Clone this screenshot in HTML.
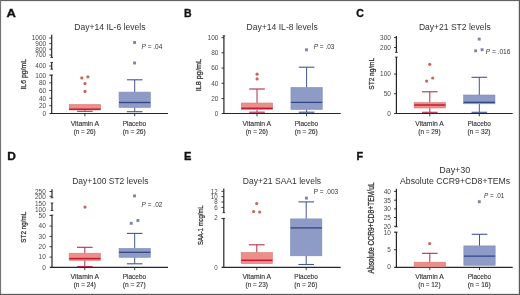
<!DOCTYPE html><html><head><meta charset="utf-8"><style>html,body{margin:0;padding:0;background:#fff;width:520px;height:295px;overflow:hidden}svg{display:block;will-change:transform;font-family:"Liberation Sans", sans-serif}</style></head><body>
<svg width="520" height="295" viewBox="0 0 520 295">
<rect x="0" y="0" width="520" height="295" fill="#fff"/>
<text x="6.5" y="16.7" font-size="11.6" text-anchor="start" font-weight="bold" fill="#111" textLength="9.4" lengthAdjust="spacingAndGlyphs" stroke="#111" stroke-width="0.35">A</text>
<text x="109.9" y="29.8" font-size="9.7" text-anchor="middle" font-weight="normal" fill="#333333" textLength="71.2" lengthAdjust="spacingAndGlyphs" >Day+14 IL-6 levels</text>
<line x1="51.7" y1="34.8" x2="51.7" y2="57.4" stroke="#262626" stroke-width="1.2"/>
<line x1="50.4" y1="57.4" x2="53.0" y2="57.4" stroke="#262626" stroke-width="0.9"/>
<line x1="51.7" y1="62.5" x2="51.7" y2="69.2" stroke="#262626" stroke-width="1.2"/>
<line x1="50.4" y1="62.5" x2="53.0" y2="62.5" stroke="#262626" stroke-width="0.9"/>
<line x1="50.4" y1="69.2" x2="53.0" y2="69.2" stroke="#262626" stroke-width="0.9"/>
<line x1="51.7" y1="75.1" x2="51.7" y2="114.0" stroke="#262626" stroke-width="1.2"/>
<line x1="50.4" y1="75.1" x2="53.0" y2="75.1" stroke="#262626" stroke-width="0.9"/>
<line x1="49.3" y1="38" x2="51.7" y2="38" stroke="#262626" stroke-width="0.9"/>
<line x1="49.3" y1="43.6" x2="51.7" y2="43.6" stroke="#262626" stroke-width="0.9"/>
<line x1="49.3" y1="49.2" x2="51.7" y2="49.2" stroke="#262626" stroke-width="0.9"/>
<line x1="49.3" y1="55" x2="51.7" y2="55" stroke="#262626" stroke-width="0.9"/>
<line x1="49.3" y1="66" x2="51.7" y2="66" stroke="#262626" stroke-width="0.9"/>
<line x1="49.3" y1="75.2" x2="51.7" y2="75.2" stroke="#262626" stroke-width="0.9"/>
<line x1="49.3" y1="82.8" x2="51.7" y2="82.8" stroke="#262626" stroke-width="0.9"/>
<line x1="49.3" y1="90.5" x2="51.7" y2="90.5" stroke="#262626" stroke-width="0.9"/>
<line x1="49.3" y1="98.2" x2="51.7" y2="98.2" stroke="#262626" stroke-width="0.9"/>
<line x1="49.3" y1="105.7" x2="51.7" y2="105.7" stroke="#262626" stroke-width="0.9"/>
<text x="46.2" y="40.34" font-size="6.96" text-anchor="end" font-weight="normal" fill="#4a4a4a" textLength="14.46" lengthAdjust="spacingAndGlyphs" >1000</text>
<text x="46.2" y="45.94" font-size="6.96" text-anchor="end" font-weight="normal" fill="#4a4a4a" textLength="10.84" lengthAdjust="spacingAndGlyphs" >900</text>
<text x="46.2" y="51.54" font-size="6.96" text-anchor="end" font-weight="normal" fill="#4a4a4a" textLength="10.84" lengthAdjust="spacingAndGlyphs" >800</text>
<text x="46.2" y="57.34" font-size="6.96" text-anchor="end" font-weight="normal" fill="#4a4a4a" textLength="10.84" lengthAdjust="spacingAndGlyphs" >700</text>
<text x="46.2" y="68.34" font-size="6.96" text-anchor="end" font-weight="normal" fill="#4a4a4a" textLength="10.84" lengthAdjust="spacingAndGlyphs" >400</text>
<text x="46.2" y="77.54" font-size="6.96" text-anchor="end" font-weight="normal" fill="#4a4a4a" textLength="10.84" lengthAdjust="spacingAndGlyphs" >100</text>
<text x="46.2" y="85.14" font-size="6.96" text-anchor="end" font-weight="normal" fill="#4a4a4a" textLength="7.23" lengthAdjust="spacingAndGlyphs" >80</text>
<text x="46.2" y="92.84" font-size="6.96" text-anchor="end" font-weight="normal" fill="#4a4a4a" textLength="7.23" lengthAdjust="spacingAndGlyphs" >60</text>
<text x="46.2" y="100.54" font-size="6.96" text-anchor="end" font-weight="normal" fill="#4a4a4a" textLength="7.23" lengthAdjust="spacingAndGlyphs" >40</text>
<text x="46.2" y="108.04" font-size="6.96" text-anchor="end" font-weight="normal" fill="#4a4a4a" textLength="7.23" lengthAdjust="spacingAndGlyphs" >20</text>
<text x="46.2" y="115.64" font-size="6.96" text-anchor="end" font-weight="normal" fill="#4a4a4a" textLength="3.61" lengthAdjust="spacingAndGlyphs" >0</text>
<line x1="49.5" y1="113.5" x2="168" y2="113.5" stroke="#262626" stroke-width="1.2"/>
<text x="0" y="0" font-size="8.0" text-anchor="middle" font-weight="normal" fill="#333333" textLength="30.5" lengthAdjust="spacingAndGlyphs" transform="translate(25.9,74.3) rotate(-90)" stroke="#333" stroke-width="0.28">IL6 pg/mL</text>
<line x1="84.9" y1="113.5" x2="84.9" y2="116.3" stroke="#262626" stroke-width="0.9"/>
<line x1="84.9" y1="110" x2="84.9" y2="111.3" stroke="#b42c4a" stroke-width="1"/>
<line x1="77.1" y1="111.3" x2="92.7" y2="111.3" stroke="#b42c4a" stroke-width="1.1"/>
<rect x="69.25" y="104.5" width="31.3" height="5.5" fill="#ec8f88" stroke="#d97a78" stroke-width="0.6"/>
<line x1="69.25" y1="109.2" x2="100.55" y2="109.2" stroke="#c41a36" stroke-width="1.5"/>
<circle cx="81.8" cy="77.9" r="1.6" fill="#c8665e"/>
<circle cx="87.9" cy="76.8" r="1.6" fill="#c8665e"/>
<circle cx="85" cy="83.6" r="1.6" fill="#c8665e"/>
<circle cx="85" cy="91.4" r="1.6" fill="#c8665e"/>
<text x="84.9" y="125.5" font-size="6.3" text-anchor="middle" font-weight="normal" fill="#333333" textLength="28.5" lengthAdjust="spacingAndGlyphs" stroke="#333" stroke-width="0.12">Vitamin A</text>
<text x="84.7" y="133.5" font-size="6.3" text-anchor="middle" font-weight="normal" fill="#333333" textLength="22.1" lengthAdjust="spacingAndGlyphs" stroke="#333" stroke-width="0.12">(n = 26)</text>
<line x1="134.7" y1="113.5" x2="134.7" y2="116.3" stroke="#262626" stroke-width="0.9"/>
<line x1="134.7" y1="79.8" x2="134.7" y2="92.1" stroke="#44558f" stroke-width="1"/>
<line x1="126.9" y1="79.8" x2="142.5" y2="79.8" stroke="#44558f" stroke-width="1.1"/>
<line x1="134.7" y1="107.4" x2="134.7" y2="111.7" stroke="#44558f" stroke-width="1"/>
<line x1="126.9" y1="111.7" x2="142.5" y2="111.7" stroke="#44558f" stroke-width="1.1"/>
<rect x="119.05" y="92.1" width="31.3" height="15.3" fill="#8e9bc6" stroke="#7f8bbf" stroke-width="0.6"/>
<line x1="119.05" y1="102.5" x2="150.35" y2="102.5" stroke="#304680" stroke-width="1.3"/>
<rect x="133.15" y="41.05" width="2.9" height="2.9" fill="#7c82b0"/>
<rect x="133.15" y="61.55" width="2.9" height="2.9" fill="#7c82b0"/>
<text x="134.45" y="125.5" font-size="6.3" text-anchor="middle" font-weight="normal" fill="#333333" textLength="23.4" lengthAdjust="spacingAndGlyphs" stroke="#333" stroke-width="0.12">Placebo</text>
<text x="134.25" y="133.5" font-size="6.3" text-anchor="middle" font-weight="normal" fill="#333333" textLength="23.0" lengthAdjust="spacingAndGlyphs" stroke="#333" stroke-width="0.12">(n = 26)</text>
<text x="141.5" y="49" font-size="6.4" fill="#333333" textLength="20.9" lengthAdjust="spacingAndGlyphs"><tspan font-style="italic">P</tspan> = .04</text>
<text x="184" y="16.7" font-size="11.6" text-anchor="start" font-weight="bold" fill="#111" textLength="7.6" lengthAdjust="spacingAndGlyphs" stroke="#111" stroke-width="0.35">B</text>
<text x="282.2" y="29.9" font-size="9.7" text-anchor="middle" font-weight="normal" fill="#333333" textLength="71.2" lengthAdjust="spacingAndGlyphs" >Day+14 IL-8 levels</text>
<line x1="223.9" y1="35.8" x2="223.9" y2="114.0" stroke="#262626" stroke-width="1.2"/>
<line x1="222.6" y1="35.8" x2="225.2" y2="35.8" stroke="#262626" stroke-width="0.9"/>
<line x1="221.5" y1="37.7" x2="223.9" y2="37.7" stroke="#262626" stroke-width="0.9"/>
<line x1="221.5" y1="52.8" x2="223.9" y2="52.8" stroke="#262626" stroke-width="0.9"/>
<line x1="221.5" y1="68.1" x2="223.9" y2="68.1" stroke="#262626" stroke-width="0.9"/>
<line x1="221.5" y1="83.3" x2="223.9" y2="83.3" stroke="#262626" stroke-width="0.9"/>
<line x1="221.5" y1="98.5" x2="223.9" y2="98.5" stroke="#262626" stroke-width="0.9"/>
<text x="218.4" y="40.04" font-size="6.96" text-anchor="end" font-weight="normal" fill="#4a4a4a" textLength="10.84" lengthAdjust="spacingAndGlyphs" >100</text>
<text x="218.4" y="55.14" font-size="6.96" text-anchor="end" font-weight="normal" fill="#4a4a4a" textLength="7.23" lengthAdjust="spacingAndGlyphs" >80</text>
<text x="218.4" y="70.44" font-size="6.96" text-anchor="end" font-weight="normal" fill="#4a4a4a" textLength="7.23" lengthAdjust="spacingAndGlyphs" >60</text>
<text x="218.4" y="85.64" font-size="6.96" text-anchor="end" font-weight="normal" fill="#4a4a4a" textLength="7.23" lengthAdjust="spacingAndGlyphs" >40</text>
<text x="218.4" y="100.84" font-size="6.96" text-anchor="end" font-weight="normal" fill="#4a4a4a" textLength="7.23" lengthAdjust="spacingAndGlyphs" >20</text>
<text x="218.4" y="115.74" font-size="6.96" text-anchor="end" font-weight="normal" fill="#4a4a4a" textLength="3.61" lengthAdjust="spacingAndGlyphs" >0</text>
<line x1="221.7" y1="113.5" x2="340.7" y2="113.5" stroke="#262626" stroke-width="1.2"/>
<text x="0" y="0" font-size="8.0" text-anchor="middle" font-weight="normal" fill="#333333" textLength="32.2" lengthAdjust="spacingAndGlyphs" transform="translate(201.1,75.15) rotate(-90)" stroke="#333" stroke-width="0.28">IL8 pg/mL</text>
<line x1="257" y1="113.5" x2="257" y2="116.3" stroke="#262626" stroke-width="0.9"/>
<line x1="257" y1="89" x2="257" y2="103" stroke="#b42c4a" stroke-width="1"/>
<line x1="249.2" y1="89" x2="264.8" y2="89" stroke="#b42c4a" stroke-width="1.1"/>
<line x1="257" y1="109.7" x2="257" y2="112.2" stroke="#b42c4a" stroke-width="1"/>
<line x1="249.2" y1="112.2" x2="264.8" y2="112.2" stroke="#b42c4a" stroke-width="1.1"/>
<rect x="241.35" y="103" width="31.3" height="6.7" fill="#ec8f88" stroke="#d97a78" stroke-width="0.6"/>
<line x1="241.35" y1="108.3" x2="272.65" y2="108.3" stroke="#c41a36" stroke-width="1.5"/>
<circle cx="257.1" cy="74.2" r="1.6" fill="#c8665e"/>
<circle cx="257.1" cy="78.9" r="1.6" fill="#c8665e"/>
<text x="256.85" y="125.5" font-size="6.3" text-anchor="middle" font-weight="normal" fill="#333333" textLength="28.6" lengthAdjust="spacingAndGlyphs" stroke="#333" stroke-width="0.12">Vitamin A</text>
<text x="256.8" y="133.5" font-size="6.3" text-anchor="middle" font-weight="normal" fill="#333333" textLength="22.3" lengthAdjust="spacingAndGlyphs" stroke="#333" stroke-width="0.12">(n = 26)</text>
<line x1="306.6" y1="113.5" x2="306.6" y2="116.3" stroke="#262626" stroke-width="0.9"/>
<line x1="306.6" y1="67.2" x2="306.6" y2="87.5" stroke="#44558f" stroke-width="1"/>
<line x1="298.8" y1="67.2" x2="314.4" y2="67.2" stroke="#44558f" stroke-width="1.1"/>
<line x1="306.6" y1="109.4" x2="306.6" y2="112.2" stroke="#44558f" stroke-width="1"/>
<line x1="298.8" y1="112.2" x2="314.4" y2="112.2" stroke="#44558f" stroke-width="1.1"/>
<rect x="290.95" y="87.5" width="31.3" height="21.9" fill="#8e9bc6" stroke="#7f8bbf" stroke-width="0.6"/>
<line x1="290.95" y1="102.3" x2="322.25" y2="102.3" stroke="#304680" stroke-width="1.3"/>
<rect x="305.05" y="48.35" width="2.9" height="2.9" fill="#7c82b0"/>
<text x="306.45" y="125.5" font-size="6.3" text-anchor="middle" font-weight="normal" fill="#333333" textLength="23.4" lengthAdjust="spacingAndGlyphs" stroke="#333" stroke-width="0.12">Placebo</text>
<text x="306.25" y="133.5" font-size="6.3" text-anchor="middle" font-weight="normal" fill="#333333" textLength="23.0" lengthAdjust="spacingAndGlyphs" stroke="#333" stroke-width="0.12">(n = 26)</text>
<text x="313.7" y="49.2" font-size="6.4" fill="#333333" textLength="20.7" lengthAdjust="spacingAndGlyphs"><tspan font-style="italic">P</tspan> = .03</text>
<text x="356.3" y="16.7" font-size="11.6" text-anchor="start" font-weight="bold" fill="#111" textLength="7.6" lengthAdjust="spacingAndGlyphs" stroke="#111" stroke-width="0.35">C</text>
<text x="454.8" y="29.9" font-size="9.7" text-anchor="middle" font-weight="normal" fill="#333333" textLength="71.8" lengthAdjust="spacingAndGlyphs" >Day+21 ST2 levels</text>
<line x1="396.4" y1="35.9" x2="396.4" y2="52.4" stroke="#262626" stroke-width="1.2"/>
<line x1="395.1" y1="52.4" x2="397.7" y2="52.4" stroke="#262626" stroke-width="0.9"/>
<line x1="396.4" y1="57.1" x2="396.4" y2="114.0" stroke="#262626" stroke-width="1.2"/>
<line x1="395.1" y1="57.1" x2="397.7" y2="57.1" stroke="#262626" stroke-width="0.9"/>
<line x1="394.0" y1="37.6" x2="396.4" y2="37.6" stroke="#262626" stroke-width="0.9"/>
<line x1="394.0" y1="47.5" x2="396.4" y2="47.5" stroke="#262626" stroke-width="0.9"/>
<line x1="394.0" y1="74.1" x2="396.4" y2="74.1" stroke="#262626" stroke-width="0.9"/>
<line x1="394.0" y1="93.7" x2="396.4" y2="93.7" stroke="#262626" stroke-width="0.9"/>
<text x="390.9" y="39.94" font-size="6.96" text-anchor="end" font-weight="normal" fill="#4a4a4a" textLength="10.84" lengthAdjust="spacingAndGlyphs" >300</text>
<text x="390.9" y="49.84" font-size="6.96" text-anchor="end" font-weight="normal" fill="#4a4a4a" textLength="10.84" lengthAdjust="spacingAndGlyphs" >200</text>
<text x="390.9" y="76.44" font-size="6.96" text-anchor="end" font-weight="normal" fill="#4a4a4a" textLength="10.84" lengthAdjust="spacingAndGlyphs" >100</text>
<text x="390.9" y="96.04" font-size="6.96" text-anchor="end" font-weight="normal" fill="#4a4a4a" textLength="7.23" lengthAdjust="spacingAndGlyphs" >50</text>
<text x="390.9" y="115.64" font-size="6.96" text-anchor="end" font-weight="normal" fill="#4a4a4a" textLength="3.61" lengthAdjust="spacingAndGlyphs" >0</text>
<line x1="394.2" y1="113.5" x2="512.7" y2="113.5" stroke="#262626" stroke-width="1.2"/>
<text x="0" y="0" font-size="8.0" text-anchor="middle" font-weight="normal" fill="#333333" textLength="31.8" lengthAdjust="spacingAndGlyphs" transform="translate(373.6,73.75) rotate(-90)" stroke="#333" stroke-width="0.28">ST2 ng/mL</text>
<line x1="429.8" y1="113.5" x2="429.8" y2="116.3" stroke="#262626" stroke-width="0.9"/>
<line x1="429.8" y1="91.8" x2="429.8" y2="102.5" stroke="#b42c4a" stroke-width="1"/>
<line x1="422.0" y1="91.8" x2="437.6" y2="91.8" stroke="#b42c4a" stroke-width="1.1"/>
<line x1="429.8" y1="108" x2="429.8" y2="112.3" stroke="#b42c4a" stroke-width="1"/>
<line x1="422.0" y1="112.3" x2="437.6" y2="112.3" stroke="#b42c4a" stroke-width="1.1"/>
<rect x="414.15" y="102.5" width="31.3" height="5.5" fill="#ec8f88" stroke="#d97a78" stroke-width="0.6"/>
<line x1="414.15" y1="105" x2="445.45" y2="105" stroke="#c41a36" stroke-width="1.5"/>
<circle cx="429.7" cy="64.3" r="1.6" fill="#c8665e"/>
<circle cx="432.7" cy="78" r="1.6" fill="#c8665e"/>
<circle cx="426.6" cy="81.1" r="1.6" fill="#c8665e"/>
<text x="429.5" y="125.5" font-size="6.3" text-anchor="middle" font-weight="normal" fill="#333333" textLength="28.5" lengthAdjust="spacingAndGlyphs" stroke="#333" stroke-width="0.12">Vitamin A</text>
<text x="429.4" y="133.5" font-size="6.3" text-anchor="middle" font-weight="normal" fill="#333333" textLength="22.3" lengthAdjust="spacingAndGlyphs" stroke="#333" stroke-width="0.12">(n = 29)</text>
<line x1="479.3" y1="113.5" x2="479.3" y2="116.3" stroke="#262626" stroke-width="0.9"/>
<line x1="479.3" y1="77.3" x2="479.3" y2="95" stroke="#44558f" stroke-width="1"/>
<line x1="471.5" y1="77.3" x2="487.1" y2="77.3" stroke="#44558f" stroke-width="1.1"/>
<line x1="479.3" y1="103.8" x2="479.3" y2="112.3" stroke="#44558f" stroke-width="1"/>
<line x1="471.5" y1="112.3" x2="487.1" y2="112.3" stroke="#44558f" stroke-width="1.1"/>
<rect x="463.65" y="95" width="31.3" height="8.8" fill="#8e9bc6" stroke="#7f8bbf" stroke-width="0.6"/>
<line x1="463.65" y1="102.3" x2="494.95" y2="102.3" stroke="#304680" stroke-width="1.3"/>
<rect x="477.75" y="37.65" width="2.9" height="2.9" fill="#7c82b0"/>
<rect x="474.15" y="49.35" width="2.9" height="2.9" fill="#7c82b0"/>
<rect x="480.65" y="48.25" width="2.9" height="2.9" fill="#7c82b0"/>
<text x="479.25" y="125.5" font-size="6.3" text-anchor="middle" font-weight="normal" fill="#333333" textLength="23.4" lengthAdjust="spacingAndGlyphs" stroke="#333" stroke-width="0.12">Placebo</text>
<text x="479.05" y="133.5" font-size="6.3" text-anchor="middle" font-weight="normal" fill="#333333" textLength="23.0" lengthAdjust="spacingAndGlyphs" stroke="#333" stroke-width="0.12">(n = 32)</text>
<text x="485.7" y="53.9" font-size="6.4" fill="#333333" textLength="24.7" lengthAdjust="spacingAndGlyphs"><tspan font-style="italic">P</tspan> = .016</text>
<text x="7.2" y="160.1" font-size="11.6" text-anchor="start" font-weight="bold" fill="#111" textLength="8.6" lengthAdjust="spacingAndGlyphs" stroke="#111" stroke-width="0.35">D</text>
<text x="110.3" y="183.7" font-size="9.7" text-anchor="middle" font-weight="normal" fill="#333333" textLength="76.2" lengthAdjust="spacingAndGlyphs" >Day+100 ST2 levels</text>
<line x1="52.0" y1="189.2" x2="52.0" y2="197.8" stroke="#262626" stroke-width="1.2"/>
<line x1="50.7" y1="197.8" x2="53.3" y2="197.8" stroke="#262626" stroke-width="0.9"/>
<line x1="52.0" y1="203" x2="52.0" y2="210.5" stroke="#262626" stroke-width="1.2"/>
<line x1="50.7" y1="203" x2="53.3" y2="203" stroke="#262626" stroke-width="0.9"/>
<line x1="50.7" y1="210.5" x2="53.3" y2="210.5" stroke="#262626" stroke-width="0.9"/>
<line x1="52.0" y1="215.2" x2="52.0" y2="267.9" stroke="#262626" stroke-width="1.2"/>
<line x1="50.7" y1="215.2" x2="53.3" y2="215.2" stroke="#262626" stroke-width="0.9"/>
<line x1="49.6" y1="191.5" x2="52.0" y2="191.5" stroke="#262626" stroke-width="0.9"/>
<line x1="49.6" y1="196.3" x2="52.0" y2="196.3" stroke="#262626" stroke-width="0.9"/>
<line x1="49.6" y1="215.5" x2="52.0" y2="215.5" stroke="#262626" stroke-width="0.9"/>
<line x1="49.6" y1="226.1" x2="52.0" y2="226.1" stroke="#262626" stroke-width="0.9"/>
<line x1="49.6" y1="236.4" x2="52.0" y2="236.4" stroke="#262626" stroke-width="0.9"/>
<line x1="49.6" y1="246.7" x2="52.0" y2="246.7" stroke="#262626" stroke-width="0.9"/>
<line x1="49.6" y1="257.1" x2="52.0" y2="257.1" stroke="#262626" stroke-width="0.9"/>
<text x="45.8" y="193.84" font-size="6.96" text-anchor="end" font-weight="normal" fill="#4a4a4a" textLength="10.84" lengthAdjust="spacingAndGlyphs" >250</text>
<text x="45.8" y="198.64" font-size="6.96" text-anchor="end" font-weight="normal" fill="#4a4a4a" textLength="10.84" lengthAdjust="spacingAndGlyphs" >200</text>
<text x="45.8" y="217.84" font-size="6.96" text-anchor="end" font-weight="normal" fill="#4a4a4a" textLength="7.23" lengthAdjust="spacingAndGlyphs" >50</text>
<text x="45.8" y="228.44" font-size="6.96" text-anchor="end" font-weight="normal" fill="#4a4a4a" textLength="7.23" lengthAdjust="spacingAndGlyphs" >40</text>
<text x="45.8" y="238.74" font-size="6.96" text-anchor="end" font-weight="normal" fill="#4a4a4a" textLength="7.23" lengthAdjust="spacingAndGlyphs" >30</text>
<text x="45.8" y="249.04" font-size="6.96" text-anchor="end" font-weight="normal" fill="#4a4a4a" textLength="7.23" lengthAdjust="spacingAndGlyphs" >20</text>
<text x="45.8" y="259.44" font-size="6.96" text-anchor="end" font-weight="normal" fill="#4a4a4a" textLength="7.23" lengthAdjust="spacingAndGlyphs" >10</text>
<text x="45.8" y="269.64" font-size="6.96" text-anchor="end" font-weight="normal" fill="#4a4a4a" textLength="3.61" lengthAdjust="spacingAndGlyphs" >0</text>
<text x="45.8" y="205.74" font-size="6.96" text-anchor="end" font-weight="normal" fill="#4a4a4a" textLength="10.84" lengthAdjust="spacingAndGlyphs" >150</text>
<text x="45.8" y="211.64" font-size="6.96" text-anchor="end" font-weight="normal" fill="#4a4a4a" textLength="10.84" lengthAdjust="spacingAndGlyphs" >100</text>
<line x1="49.8" y1="267.4" x2="168" y2="267.4" stroke="#262626" stroke-width="1.2"/>
<text x="0" y="0" font-size="8.0" text-anchor="middle" font-weight="normal" fill="#333333" textLength="31.0" lengthAdjust="spacingAndGlyphs" transform="translate(26.2,227.15) rotate(-90)" stroke="#333" stroke-width="0.28">ST2 ng/mL</text>
<line x1="84.8" y1="267.4" x2="84.8" y2="270.2" stroke="#262626" stroke-width="0.9"/>
<line x1="84.8" y1="247.3" x2="84.8" y2="253.2" stroke="#b42c4a" stroke-width="1"/>
<line x1="77.0" y1="247.3" x2="92.6" y2="247.3" stroke="#b42c4a" stroke-width="1.1"/>
<line x1="84.8" y1="260.4" x2="84.8" y2="266.6" stroke="#b42c4a" stroke-width="1"/>
<line x1="77.0" y1="266.6" x2="92.6" y2="266.6" stroke="#b42c4a" stroke-width="1.1"/>
<rect x="69.15" y="253.2" width="31.3" height="7.2" fill="#ec8f88" stroke="#d97a78" stroke-width="0.6"/>
<line x1="69.15" y1="258.6" x2="100.45" y2="258.6" stroke="#c41a36" stroke-width="1.5"/>
<circle cx="85" cy="207.1" r="1.6" fill="#c8665e"/>
<text x="84.85" y="278.8" font-size="6.3" text-anchor="middle" font-weight="normal" fill="#333333" textLength="28.6" lengthAdjust="spacingAndGlyphs" stroke="#333" stroke-width="0.12">Vitamin A</text>
<text x="84.8" y="286.5" font-size="6.3" text-anchor="middle" font-weight="normal" fill="#333333" textLength="22.3" lengthAdjust="spacingAndGlyphs" stroke="#333" stroke-width="0.12">(n = 24)</text>
<line x1="134.7" y1="267.4" x2="134.7" y2="270.2" stroke="#262626" stroke-width="0.9"/>
<line x1="134.7" y1="233.4" x2="134.7" y2="248.4" stroke="#44558f" stroke-width="1"/>
<line x1="126.9" y1="233.4" x2="142.5" y2="233.4" stroke="#44558f" stroke-width="1.1"/>
<line x1="134.7" y1="257.3" x2="134.7" y2="263.8" stroke="#44558f" stroke-width="1"/>
<line x1="126.9" y1="263.8" x2="142.5" y2="263.8" stroke="#44558f" stroke-width="1.1"/>
<rect x="119.05" y="248.4" width="31.3" height="8.9" fill="#8e9bc6" stroke="#7f8bbf" stroke-width="0.6"/>
<line x1="119.05" y1="252.3" x2="150.35" y2="252.3" stroke="#304680" stroke-width="1.3"/>
<rect x="133.05" y="194.45" width="2.9" height="2.9" fill="#7c82b0"/>
<rect x="129.75" y="221.85" width="2.9" height="2.9" fill="#7c82b0"/>
<rect x="136.45" y="219.05" width="2.9" height="2.9" fill="#7c82b0"/>
<text x="134.45" y="278.8" font-size="6.3" text-anchor="middle" font-weight="normal" fill="#333333" textLength="23.4" lengthAdjust="spacingAndGlyphs" stroke="#333" stroke-width="0.12">Placebo</text>
<text x="134.25" y="286.5" font-size="6.3" text-anchor="middle" font-weight="normal" fill="#333333" textLength="23.0" lengthAdjust="spacingAndGlyphs" stroke="#333" stroke-width="0.12">(n = 27)</text>
<text x="141.6" y="206.9" font-size="6.4" fill="#333333" textLength="20.8" lengthAdjust="spacingAndGlyphs"><tspan font-style="italic">P</tspan> = .02</text>
<text x="184" y="160.1" font-size="11.6" text-anchor="start" font-weight="bold" fill="#111" textLength="7.4" lengthAdjust="spacingAndGlyphs" stroke="#111" stroke-width="0.35">E</text>
<text x="281.95" y="183.7" font-size="9.7" text-anchor="middle" font-weight="normal" fill="#333333" textLength="78.3" lengthAdjust="spacingAndGlyphs" >Day+21 SAA1 levels</text>
<line x1="223.8" y1="188.5" x2="223.8" y2="212.7" stroke="#262626" stroke-width="1.2"/>
<line x1="222.5" y1="212.7" x2="225.1" y2="212.7" stroke="#262626" stroke-width="0.9"/>
<line x1="223.8" y1="218.4" x2="223.8" y2="267.9" stroke="#262626" stroke-width="1.2"/>
<line x1="222.5" y1="218.4" x2="225.1" y2="218.4" stroke="#262626" stroke-width="0.9"/>
<line x1="221.4" y1="191.3" x2="223.8" y2="191.3" stroke="#262626" stroke-width="0.9"/>
<line x1="221.4" y1="196.6" x2="223.8" y2="196.6" stroke="#262626" stroke-width="0.9"/>
<line x1="221.4" y1="202" x2="223.8" y2="202" stroke="#262626" stroke-width="0.9"/>
<line x1="221.4" y1="207.4" x2="223.8" y2="207.4" stroke="#262626" stroke-width="0.9"/>
<line x1="221.4" y1="218.6" x2="223.8" y2="218.6" stroke="#262626" stroke-width="0.9"/>
<text x="217.7" y="193.53" font-size="6.63" text-anchor="end" font-weight="normal" fill="#4a4a4a" textLength="6.89" lengthAdjust="spacingAndGlyphs" >12</text>
<text x="217.7" y="198.83" font-size="6.63" text-anchor="end" font-weight="normal" fill="#4a4a4a" textLength="6.89" lengthAdjust="spacingAndGlyphs" >10</text>
<text x="217.7" y="204.23" font-size="6.63" text-anchor="end" font-weight="normal" fill="#4a4a4a" textLength="3.45" lengthAdjust="spacingAndGlyphs" >8</text>
<text x="217.7" y="209.63" font-size="6.63" text-anchor="end" font-weight="normal" fill="#4a4a4a" textLength="3.45" lengthAdjust="spacingAndGlyphs" >6</text>
<text x="217.7" y="219.73" font-size="6.63" text-anchor="end" font-weight="normal" fill="#4a4a4a" textLength="3.45" lengthAdjust="spacingAndGlyphs" >2</text>
<text x="217.7" y="269.53" font-size="6.63" text-anchor="end" font-weight="normal" fill="#4a4a4a" textLength="3.45" lengthAdjust="spacingAndGlyphs" >0</text>
<line x1="221.6" y1="267.4" x2="340.7" y2="267.4" stroke="#262626" stroke-width="1.2"/>
<text x="0" y="0" font-size="8.0" text-anchor="middle" font-weight="normal" fill="#333333" textLength="39.7" lengthAdjust="spacingAndGlyphs" transform="translate(202.6,225.2) rotate(-90)" stroke="#333" stroke-width="0.28">SAA-1 mcg/mL</text>
<line x1="256.8" y1="267.4" x2="256.8" y2="270.2" stroke="#262626" stroke-width="0.9"/>
<line x1="256.8" y1="244.8" x2="256.8" y2="252.5" stroke="#b42c4a" stroke-width="1"/>
<line x1="249.0" y1="244.8" x2="264.6" y2="244.8" stroke="#b42c4a" stroke-width="1.1"/>
<rect x="241.15" y="252.5" width="31.3" height="11.1" fill="#ec8f88" stroke="#d97a78" stroke-width="0.6"/>
<line x1="241.15" y1="260.3" x2="272.45" y2="260.3" stroke="#c41a36" stroke-width="1.5"/>
<circle cx="256.7" cy="203.5" r="1.6" fill="#c8665e"/>
<circle cx="253.6" cy="211.5" r="1.6" fill="#c8665e"/>
<circle cx="259.7" cy="212" r="1.6" fill="#c8665e"/>
<text x="256.75" y="278.8" font-size="6.3" text-anchor="middle" font-weight="normal" fill="#333333" textLength="28.6" lengthAdjust="spacingAndGlyphs" stroke="#333" stroke-width="0.12">Vitamin A</text>
<text x="256.7" y="286.5" font-size="6.3" text-anchor="middle" font-weight="normal" fill="#333333" textLength="22.3" lengthAdjust="spacingAndGlyphs" stroke="#333" stroke-width="0.12">(n = 23)</text>
<line x1="306.2" y1="267.4" x2="306.2" y2="270.2" stroke="#262626" stroke-width="0.9"/>
<line x1="306.2" y1="201.9" x2="306.2" y2="218.9" stroke="#44558f" stroke-width="1"/>
<line x1="298.4" y1="201.9" x2="314.0" y2="201.9" stroke="#44558f" stroke-width="1.1"/>
<line x1="306.2" y1="255.8" x2="306.2" y2="264.5" stroke="#44558f" stroke-width="1"/>
<line x1="298.4" y1="264.5" x2="314.0" y2="264.5" stroke="#44558f" stroke-width="1.1"/>
<rect x="290.55" y="218.9" width="31.3" height="36.9" fill="#8e9bc6" stroke="#7f8bbf" stroke-width="0.6"/>
<line x1="290.55" y1="227.9" x2="321.85" y2="227.9" stroke="#304680" stroke-width="1.3"/>
<rect x="304.95" y="196.65" width="2.9" height="2.9" fill="#7c82b0"/>
<text x="306.05" y="278.8" font-size="6.3" text-anchor="middle" font-weight="normal" fill="#333333" textLength="23.4" lengthAdjust="spacingAndGlyphs" stroke="#333" stroke-width="0.12">Placebo</text>
<text x="305.85" y="286.5" font-size="6.3" text-anchor="middle" font-weight="normal" fill="#333333" textLength="23.0" lengthAdjust="spacingAndGlyphs" stroke="#333" stroke-width="0.12">(n = 26)</text>
<text x="313.7" y="193.6" font-size="6.4" fill="#333333" textLength="24.5" lengthAdjust="spacingAndGlyphs"><tspan font-style="normal">P</tspan> = .003</text>
<text x="356.6" y="160.1" font-size="11.6" text-anchor="start" font-weight="bold" fill="#111" textLength="6.6" lengthAdjust="spacingAndGlyphs" stroke="#111" stroke-width="0.35">F</text>
<text x="454.75" y="173.3" font-size="9.7" text-anchor="middle" font-weight="normal" fill="#333333" textLength="31.1" lengthAdjust="spacingAndGlyphs" >Day+30</text>
<text x="455.1" y="183.7" font-size="9.7" text-anchor="middle" font-weight="normal" fill="#333333" textLength="110.2" lengthAdjust="spacingAndGlyphs" >Absolute CCR9+CD8+TEMs</text>
<line x1="396.4" y1="188.8" x2="396.4" y2="226.8" stroke="#262626" stroke-width="1.2"/>
<line x1="395.1" y1="226.8" x2="397.7" y2="226.8" stroke="#262626" stroke-width="0.9"/>
<line x1="396.4" y1="232.2" x2="396.4" y2="267.8" stroke="#262626" stroke-width="1.2"/>
<line x1="395.1" y1="232.2" x2="397.7" y2="232.2" stroke="#262626" stroke-width="0.9"/>
<line x1="394.0" y1="191.4" x2="396.4" y2="191.4" stroke="#262626" stroke-width="0.9"/>
<line x1="394.0" y1="200.2" x2="396.4" y2="200.2" stroke="#262626" stroke-width="0.9"/>
<line x1="394.0" y1="208.9" x2="396.4" y2="208.9" stroke="#262626" stroke-width="0.9"/>
<line x1="394.0" y1="217.5" x2="396.4" y2="217.5" stroke="#262626" stroke-width="0.9"/>
<line x1="394.0" y1="226.3" x2="396.4" y2="226.3" stroke="#262626" stroke-width="0.9"/>
<line x1="394.0" y1="232.2" x2="396.4" y2="232.2" stroke="#262626" stroke-width="0.9"/>
<line x1="394.0" y1="249.7" x2="396.4" y2="249.7" stroke="#262626" stroke-width="0.9"/>
<text x="390.9" y="193.74" font-size="6.96" text-anchor="end" font-weight="normal" fill="#4a4a4a" textLength="7.23" lengthAdjust="spacingAndGlyphs" >40</text>
<text x="390.9" y="202.54" font-size="6.96" text-anchor="end" font-weight="normal" fill="#4a4a4a" textLength="7.23" lengthAdjust="spacingAndGlyphs" >35</text>
<text x="390.9" y="211.24" font-size="6.96" text-anchor="end" font-weight="normal" fill="#4a4a4a" textLength="7.23" lengthAdjust="spacingAndGlyphs" >30</text>
<text x="390.9" y="219.84" font-size="6.96" text-anchor="end" font-weight="normal" fill="#4a4a4a" textLength="7.23" lengthAdjust="spacingAndGlyphs" >25</text>
<text x="390.9" y="228.64" font-size="6.96" text-anchor="end" font-weight="normal" fill="#4a4a4a" textLength="7.23" lengthAdjust="spacingAndGlyphs" >20</text>
<text x="390.9" y="234.54" font-size="6.96" text-anchor="end" font-weight="normal" fill="#4a4a4a" textLength="7.23" lengthAdjust="spacingAndGlyphs" >10</text>
<text x="390.9" y="252.04" font-size="6.96" text-anchor="end" font-weight="normal" fill="#4a4a4a" textLength="3.61" lengthAdjust="spacingAndGlyphs" >5</text>
<text x="390.9" y="269.34" font-size="6.96" text-anchor="end" font-weight="normal" fill="#4a4a4a" textLength="3.61" lengthAdjust="spacingAndGlyphs" >0</text>
<line x1="394.2" y1="267.3" x2="512.7" y2="267.3" stroke="#262626" stroke-width="1.2"/>
<text x="0" y="0" font-size="8.4" text-anchor="middle" font-weight="normal" fill="#333333" textLength="91.2" lengthAdjust="spacingAndGlyphs" transform="translate(373.7,227.95) rotate(-90)" stroke="#333" stroke-width="0.28">Absolute CCR9+CD8+TEM/uL</text>
<line x1="429.8" y1="267.3" x2="429.8" y2="270.1" stroke="#262626" stroke-width="0.9"/>
<line x1="429.8" y1="253.3" x2="429.8" y2="262.2" stroke="#b42c4a" stroke-width="1"/>
<line x1="422.0" y1="253.3" x2="437.6" y2="253.3" stroke="#b42c4a" stroke-width="1.1"/>
<rect x="414.15" y="262.2" width="31.3" height="4.8" fill="#ec8f88" stroke="#d97a78" stroke-width="0.6"/>
<circle cx="429.7" cy="243.5" r="1.6" fill="#c8665e"/>
<text x="429.5" y="278.8" font-size="6.3" text-anchor="middle" font-weight="normal" fill="#333333" textLength="28.5" lengthAdjust="spacingAndGlyphs" stroke="#333" stroke-width="0.12">Vitamin A</text>
<text x="429.4" y="286.5" font-size="6.3" text-anchor="middle" font-weight="normal" fill="#333333" textLength="22.3" lengthAdjust="spacingAndGlyphs" stroke="#333" stroke-width="0.12">(n = 12)</text>
<line x1="479.5" y1="267.3" x2="479.5" y2="270.1" stroke="#262626" stroke-width="0.9"/>
<line x1="479.5" y1="234.3" x2="479.5" y2="245.9" stroke="#44558f" stroke-width="1"/>
<line x1="471.7" y1="234.3" x2="487.3" y2="234.3" stroke="#44558f" stroke-width="1.1"/>
<rect x="463.85" y="245.9" width="31.3" height="19.4" fill="#8e9bc6" stroke="#7f8bbf" stroke-width="0.6"/>
<line x1="463.85" y1="256.2" x2="495.15" y2="256.2" stroke="#304680" stroke-width="1.3"/>
<rect x="477.85" y="200.25" width="2.9" height="2.9" fill="#7c82b0"/>
<text x="479.45" y="278.8" font-size="6.3" text-anchor="middle" font-weight="normal" fill="#333333" textLength="23.4" lengthAdjust="spacingAndGlyphs" stroke="#333" stroke-width="0.12">Placebo</text>
<text x="479.25" y="286.5" font-size="6.3" text-anchor="middle" font-weight="normal" fill="#333333" textLength="23.0" lengthAdjust="spacingAndGlyphs" stroke="#333" stroke-width="0.12">(n = 16)</text>
<text x="484.0" y="197.7" font-size="6.4" fill="#333333" textLength="20.4" lengthAdjust="spacingAndGlyphs"><tspan font-style="italic">P</tspan> = .01</text>
<rect x="0" y="0" width="520" height="1.1" fill="#626262"/><rect x="0" y="0" width="1.1" height="295" fill="#747474"/><rect x="518.8" y="0" width="1.2" height="295" fill="#5a5a5a"/><rect x="0" y="293.85" width="520" height="1.15" fill="#5a5a5a"/>
</svg></body></html>
